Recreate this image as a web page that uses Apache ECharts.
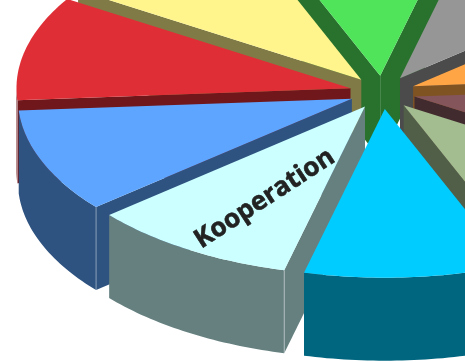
<!DOCTYPE html>
<html>
<head>
<meta charset="utf-8">
<style>html,body{margin:0;padding:0;background:#fff}#chart{width:465px;height:362px}</style>
<script src="https://cdn.jsdelivr.net/npm/echarts@6/dist/echarts.min.js"></script>
</head>
<body>
<div id="chart"></div>
<script>
// Ten equal shares of an exploded 3D pie, clockwise from the lower right.
const sliceValues = [10, 10, 10, 10, 10, 10, 10, 10, 10, 10];
const sliceColors = ['#00CCFF', '#CCFFFF', '#5EA5FF', '#E02E36', '#FFF58C',
                     '#4FE45A', '#969696', '#FFA545', '#84555B', '#A3BD90'];
const sliceLabels = ['', 'Kooperation', '', '', '', '', '', '', '', ''];

const START_ANGLE = 68;     // screen degrees, y pointing down
const CENTER = [382.5, 92.4];
const RADIUS = 334;
const SQUASH = 0.505;       // vertical foreshortening of the disc
const EXPLODE = 33;
const DEPTH = 83;
const LABEL_RADIUS = 208;
const LABEL_OFFSET = -3.2;  // degrees from the middle of the slice

const rad = d => d * Math.PI / 180;
const total = sliceValues.reduce((a, b) => a + b, 0);

// Angular span of every slice, taken from its share of the total.
let cursor = START_ANGLE;
const slices = sliceValues.map((v, i) => {
  const span = v / total * 360;
  const s = { index: i, value: v, from: cursor, to: cursor + span };
  cursor += span;
  return s;
});

function darken(hex) {
  const n = parseInt(hex.slice(1), 16);
  const c = [n >> 16, (n >> 8) & 255, n & 255].map(x => Math.round(x / 2));
  return `rgb(${c.join(',')})`;
}

function renderSlice(params, api) {
  const s = slices[api.value(0)];
  const color = sliceColors[s.index];
  const side = darken(color);
  const mid = (s.from + s.to) / 2;
  const ax = CENTER[0] + EXPLODE * Math.cos(rad(mid));
  const ay = CENTER[1] + EXPLODE * SQUASH * Math.sin(rad(mid));
  const rim = t => [ax + RADIUS * Math.cos(rad(t)), ay + RADIUS * SQUASH * Math.sin(rad(t))];
  const drop = p => [p[0], p[1] + DEPTH];
  const children = [];
  const wall = pts => children.push({
    type: 'polygon',
    shape: { points: pts.concat(pts.slice().reverse().map(drop)) },
    style: { fill: side }
  });

  // Radial walls are only seen when they face the viewer.
  const fromWallVisible = Math.sin(rad(s.from - 90)) > 0;
  if (fromWallVisible) wall([[ax, ay], rim(s.from)]);
  if (Math.sin(rad(s.to + 90)) > 0) wall([[ax, ay], rim(s.to)]);

  // Outer wall: only the front half of the rim, 0 to 180 degrees.
  const arc = [];
  for (let t = s.from; t <= s.to; t += 1) {
    const a = ((t % 360) + 360) % 360;
    if (a <= 180) arc.push(rim(t));
  }
  if (arc.length > 1) wall(arc);

  // Pale edge where a radial wall meets the outer wall.
  if (fromWallVisible && arc.length > 1) {
    const c = rim(s.from);
    const d = drop(c);
    children.push({
      type: 'line',
      shape: { x1: c[0], y1: c[1], x2: d[0], y2: d[1] },
      style: { stroke: 'rgba(255,255,255,0.4)', lineWidth: 1 }
    });
  }

  // Top face.
  const top = [[ax, ay]];
  for (let t = s.from; t <= s.to + 1e-6; t += 1) top.push(rim(t));
  children.push({ type: 'polygon', shape: { points: top }, style: { fill: color } });

  const label = sliceLabels[s.index];
  if (label) {
    const a = rad(mid + LABEL_OFFSET);
    children.push({
      type: 'text',
      x: ax + LABEL_RADIUS * Math.cos(a),
      y: ay + LABEL_RADIUS * SQUASH * Math.sin(a),
      rotation: rad(33),
      style: {
        text: label,
        fill: '#222222',
        stroke: '#222222',
        lineWidth: 0.6,
        font: 'bold 26px "Open Sans"',
        align: 'center',
        verticalAlign: 'middle'
      }
    });
  }
  return { type: 'group', children };
}

// Back slices are painted first so the nearer ones cover them.
const paintOrder = slices.slice()
  .sort((a, b) => Math.sin(rad((a.from + a.to) / 2)) - Math.sin(rad((b.from + b.to) / 2)))
  .map(s => [s.index, s.value]);

const chart = echarts.init(document.getElementById('chart'), null, { renderer: 'canvas' });
chart.setOption({
  animation: false,
  backgroundColor: '#ffffff',
  series: [{ type: 'custom', coordinateSystem: 'none', renderItem: renderSlice, data: paintOrder, silent: true }]
});
</script>
</body>
</html>
